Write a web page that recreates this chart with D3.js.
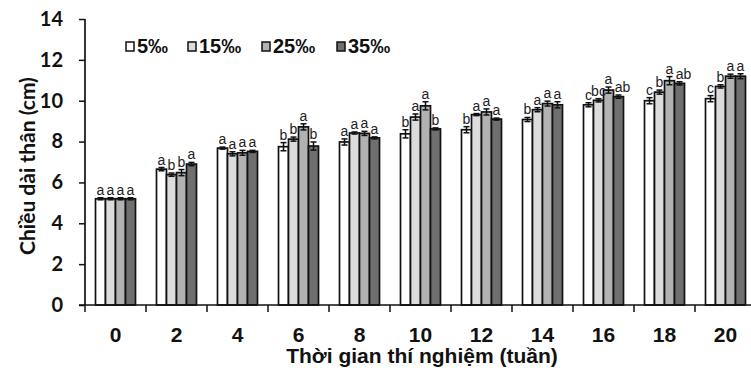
<!DOCTYPE html>
<html>
<head>
<meta charset="utf-8">
<script src="https://cdn.jsdelivr.net/npm/d3@7"></script>
<style>
html,body{margin:0;padding:0;background:#fff;}
svg{display:block;}
text{font-family:"Liberation Sans",Arial,sans-serif;}
</style>
</head>
<body>
<svg id="chart" width="751" height="374"></svg>
<script>
const weeks = ["0","2","4","6","8","10","12","14","16","18","20"];
const series = ["5‰","15‰","25‰","35‰"];
const colors = ["#ffffff","#dcdcdc","#b2b2b2","#6f6f6f"];
const v5  = [5.2, 6.65, 7.68, 7.75, 7.98, 8.38, 8.58, 9.08, 9.8, 10.0, 10.1];
const v15 = [5.2, 6.38, 7.4, 8.12, 8.42, 9.2, 9.32, 9.56, 10.02, 10.42, 10.7];
const v25 = [5.2, 6.48, 7.45, 8.72, 8.4, 9.75, 9.45, 9.86, 10.52, 10.98, 11.2];
const v35 = [5.2, 6.9, 7.52, 7.78, 8.18, 8.62, 9.1, 9.8, 10.2, 10.85, 11.2];
const e5  = [0.05, 0.08, 0.05, 0.2, 0.15, 0.2, 0.15, 0.1, 0.1, 0.15, 0.15];
const e15 = [0.05, 0.08, 0.1, 0.1, 0.05, 0.15, 0.05, 0.1, 0.08, 0.1, 0.08];
const e25 = [0.05, 0.15, 0.12, 0.15, 0.1, 0.2, 0.15, 0.12, 0.15, 0.2, 0.1];
const e35 = [0.05, 0.08, 0.05, 0.2, 0.05, 0.05, 0.05, 0.15, 0.08, 0.08, 0.12];
const l5  = ["a","a","a","b","a","b","b","b","c","c","c"];
const l15 = ["a","b","a","b","a","a","a","a","bc","b","b"];
const l25 = ["a","b","a","a","a","a","a","a","a","a","a"];
const l35 = ["a","a","a","b","a","b","a","a","ab","ab","a"];
const yTicks = [0,2,4,6,8,10,12,14];
const yTitle = "Chiều dài thân (cm)";
const xTitle = "Thời gian thí nghiệm (tuần)";

const values = [v5, v15, v25, v35];
const errs = [e5, e15, e25, e35];
const letters = [l5, l15, l25, l35];

const svg = d3.select("#chart");
const y = d3.scaleLinear().domain([0,14]).range([305,19]);
const x0 = d3.scaleBand().domain(weeks).range([85,756]).padding(0);
const x1 = d3.scaleBand().domain(series).range([0,x0.bandwidth()]).paddingInner(0).paddingOuter(1.05);

const data = [];
weeks.forEach((w,i)=>{
  series.forEach((s,j)=>{
    data.push({w, s, j, v: values[j][i], e: errs[j][i], l: letters[j][i]});
  });
});

// bars
svg.append("g").selectAll("rect").data(data).join("rect")
  .attr("x", d=>x0(d.w)+x1(d.s))
  .attr("y", d=>y(d.v))
  .attr("width", x1.bandwidth())
  .attr("height", d=>y(0)-y(d.v))
  .attr("fill", d=>colors[d.j])
  .attr("stroke","#111")
  .attr("stroke-width",1.7);

// error bars
const eg = svg.append("g").attr("stroke","#111").attr("stroke-width",1.5);
data.forEach(d=>{
  const cx = x0(d.w)+x1(d.s)+x1.bandwidth()/2;
  eg.append("line").attr("x1",cx).attr("x2",cx).attr("y1",y(d.v-d.e)).attr("y2",y(d.v+d.e));
  eg.append("line").attr("x1",cx-3).attr("x2",cx+3).attr("y1",y(d.v+d.e)).attr("y2",y(d.v+d.e));
  eg.append("line").attr("x1",cx-3).attr("x2",cx+3).attr("y1",y(d.v-d.e)).attr("y2",y(d.v-d.e));
});

// letters (two-letter labels on the last bar nudged right, as in the reference)
svg.append("g").selectAll("text").data(data).join("text")
  .attr("x", d=>x0(d.w)+x1(d.s)+x1.bandwidth()/2 + (d.l.length>1 && d.j===3 ? 4 : 0))
  .attr("y", d=>y(d.v+d.e)-3)
  .attr("text-anchor","middle")
  .attr("font-size",14)
  .attr("fill","#222")
  .text(d=>d.l);

// y axis
const yAxis = svg.append("g").attr("transform","translate(85,0)")
  .call(d3.axisLeft(y).tickValues(yTicks).tickSize(6).tickPadding(16).tickFormat(d3.format("d")));
yAxis.select(".domain").attr("stroke","#111").attr("stroke-width",1.7).attr("d","M0,19V305");
yAxis.selectAll(".tick line").attr("stroke","#111").attr("stroke-width",1.5);
yAxis.selectAll(".tick text").attr("font-size",20).attr("font-weight","bold").attr("fill","#111")
  .style("font-family","Lato, 'Open Sans', sans-serif");

// x axis
const xAxis = svg.append("g").attr("transform","translate(0,305)")
  .call(d3.axisBottom(x0).tickSize(0).tickPadding(22));
xAxis.select(".domain").attr("stroke","#111").attr("stroke-width",1.7).attr("d","M79,0H751");
xAxis.selectAll(".tick text").attr("font-size",21).attr("font-weight","bold").attr("fill","#111");
// boundary tick marks
const bounds = weeks.map(w=>x0(w)).concat([x0(weeks[weeks.length-1])+x0.bandwidth()]);
svg.append("g").selectAll("line").data(bounds).join("line")
  .attr("x1",d=>d).attr("x2",d=>d).attr("y1",305).attr("y2",312)
  .attr("stroke","#111").attr("stroke-width",1.5);

// titles
svg.append("text").attr("x",422).attr("y",363).attr("text-anchor","middle")
  .attr("font-size",21).attr("font-weight","bold").attr("fill","#111").text(xTitle);
svg.append("text").attr("transform","translate(35,166) rotate(-90)").attr("text-anchor","middle")
  .style("font-family","Lato, 'Open Sans', sans-serif")
  .attr("font-size",21).attr("font-weight","bold").attr("fill","#111").text(yTitle);

// legend
const legX = [126, 188, 262, 337];
const lg = svg.append("g").selectAll("g").data(series).join("g")
  .attr("transform",(d,i)=>`translate(${legX[i]},40)`);
lg.append("rect").attr("width",8).attr("height",9).attr("y",2)
  .attr("fill",(d,i)=>colors[i]).attr("stroke","#111").attr("stroke-width",1.5);
lg.append("text").attr("x",11).attr("y",13).attr("font-size",20).attr("font-weight","bold")
  .attr("fill","#111").text(d=>d);
</script>
</body>
</html>
